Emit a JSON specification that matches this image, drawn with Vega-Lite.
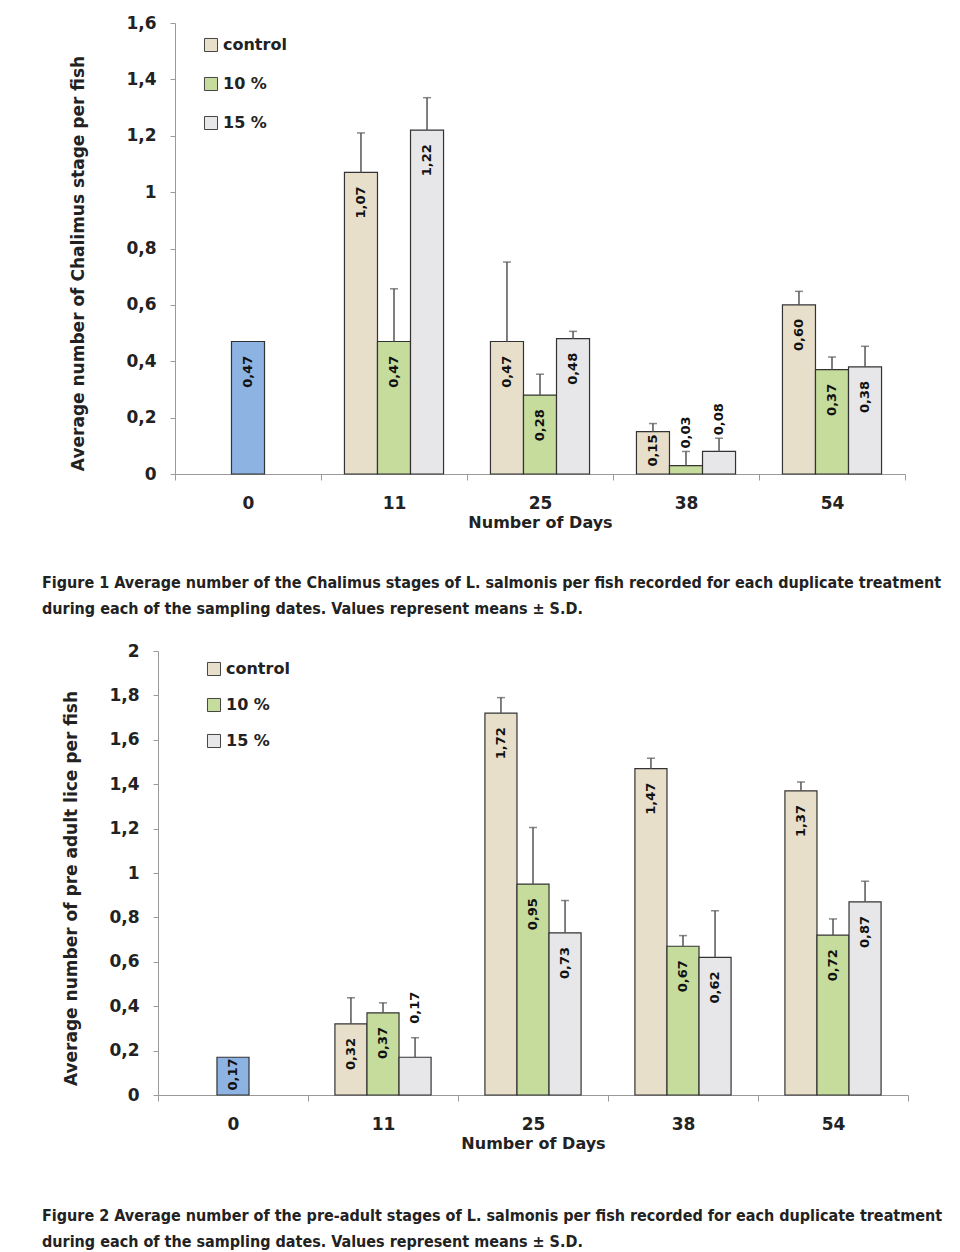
{
  "$schema": "https://vega.github.io/schema/vega-lite/v6.json",
  "padding": {"left": 42, "top": 14, "right": 5, "bottom": 5},
  "background": "white",
  "spacing": 25,
  "config": {
    "view": {"stroke": null},
    "font": "DejaVu Sans",
    "axis": {
      "grid": false,
      "domainColor": "#9a9a9a",
      "tickColor": "#9a9a9a",
      "labelColor": "#222",
      "titleColor": "#222",
      "labelFont": "DejaVu Sans",
      "titleFont": "DejaVu Sans",
      "labelFontWeight": "bold",
      "titleFontWeight": "bold"
    },
    "legend": {
      "labelFont": "DejaVu Sans",
      "labelFontSize": 16,
      "labelFontWeight": "bold",
      "labelColor": "#222",
      "symbolType": "square",
      "symbolSize": 170,
      "symbolStrokeColor": "#444",
      "symbolStrokeWidth": 1,
      "labelOffset": 4
    },
    "title": {
      "font": "DejaVu Sans Condensed",
      "fontSize": 16,
      "fontWeight": "bold",
      "color": "#222",
      "lineHeight": 26
    }
  },
  "resolve": {
    "scale": {"fill": "independent", "x": "independent", "y": "independent", "xOffset": "independent"},
    "legend": {"fill": "independent"}
  },
  "vconcat": [
    {
      "width": 730,
      "height": 451,
      "title": {
        "text": [
          "Figure 1 Average number of the Chalimus stages of L. salmonis per fish recorded for each duplicate treatment",
          "during each of the sampling dates. Values represent means ± S.D."
        ],
        "orient": "bottom",
        "anchor": "start",
        "frame": "group",
        "dx": -133,
        "offset": 45
      },
      "data": {
        "values": [
          {"day": "0", "group": "day0", "slot": "b", "value": 0.47, "upper": null},
          {"day": "11", "group": "control", "slot": "a", "value": 1.07, "upper": 1.21},
          {"day": "11", "group": "10 %", "slot": "b", "value": 0.47, "upper": 0.657},
          {"day": "11", "group": "15 %", "slot": "c", "value": 1.22, "upper": 1.335},
          {"day": "25", "group": "control", "slot": "a", "value": 0.47, "upper": 0.752},
          {"day": "25", "group": "10 %", "slot": "b", "value": 0.28, "upper": 0.354},
          {"day": "25", "group": "15 %", "slot": "c", "value": 0.48, "upper": 0.506},
          {"day": "38", "group": "control", "slot": "a", "value": 0.15, "upper": 0.179},
          {"day": "38", "group": "10 %", "slot": "b", "value": 0.03, "upper": 0.08},
          {"day": "38", "group": "15 %", "slot": "c", "value": 0.08, "upper": 0.127},
          {"day": "54", "group": "control", "slot": "a", "value": 0.60, "upper": 0.648},
          {"day": "54", "group": "10 %", "slot": "b", "value": 0.37, "upper": 0.415},
          {"day": "54", "group": "15 %", "slot": "c", "value": 0.38, "upper": 0.453}
        ]
      },
      "transform": [
        {"calculate": "replace(format(datum.value, '.2f'), '.', ',')", "as": "label"},
        {"calculate": "max(datum.value - 0.05, 0.14)", "as": "labelAt"}
      ],
      "encoding": {
        "x": {
          "field": "day",
          "type": "nominal",
          "sort": ["0", "11", "25", "38", "54"],
          "scale": {"paddingInner": 0, "paddingOuter": 0},
          "axis": {
            "title": "Number of Days",
            "labelAngle": 0,
            "tickBand": "extent",
            "tickSize": 6,
            "labelFontSize": 17,
            "labelPadding": 15,
            "titleFontSize": 16,
            "titlePadding": 3
          }
        },
        "xOffset": {
          "field": "slot",
          "type": "nominal",
          "scale": {"domain": ["a", "b", "c"], "paddingInner": 0, "paddingOuter": 0.71}
        }
      },
      "layer": [
        {
          "mark": {"type": "bar", "stroke": "#333", "strokeWidth": 1.2},
          "encoding": {
            "y": {
              "field": "value",
              "type": "quantitative",
              "scale": {"domain": [0, 1.6]},
              "axis": {
                "title": "Average number of Chalimus stage per fish",
                "values": [0, 0.2, 0.4, 0.6, 0.8, 1, 1.2, 1.4, 1.6],
                "labelExpr": "replace(format(datum.value, '~g'), '.', ',')",
                "tickSize": 5,
                "labelPadding": 14,
                "labelFontSize": 17,
                "titleFontSize": 17,
                "titlePadding": 38,
                "titleY": 240
              }
            },
            "fill": {
              "field": "group",
              "type": "nominal",
              "scale": {
                "domain": ["control", "10 %", "15 %", "day0"],
                "range": ["#e8dfcb", "#c5dc9c", "#e7e7e9", "#8db3e2"]
              },
              "legend": {
                "values": ["control", "10 %", "15 %"],
                "title": null,
                "orient": "none",
                "legendX": 28,
                "legendY": 14,
                "rowPadding": 21
              }
            }
          }
        },
        {
          "transform": [{"filter": "isValid(datum.upper)"}],
          "mark": {"type": "rule", "color": "#555", "strokeWidth": 1.5},
          "encoding": {
            "y": {"field": "value", "type": "quantitative"},
            "y2": {"field": "upper"}
          }
        },
        {
          "transform": [{"filter": "isValid(datum.upper)"}],
          "mark": {"type": "tick", "color": "#555", "size": 8, "thickness": 1.5},
          "encoding": {
            "y": {"field": "upper", "type": "quantitative"}
          }
        },
        {
          "transform": [{"filter": "datum.value >= 0.1"}],
          "mark": {"type": "text", "angle": 270, "align": "right", "baseline": "middle", "font": "DejaVu Sans", "fontSize": 13, "fontWeight": "bold", "color": "#111"},
          "encoding": {
            "y": {"field": "labelAt", "type": "quantitative"},
            "text": {"field": "label"}
          }
        },
        {
          "transform": [{"filter": "datum.value < 0.1"}],
          "mark": {"type": "text", "angle": 270, "align": "left", "baseline": "middle", "dx": 3, "font": "DejaVu Sans", "fontSize": 13, "fontWeight": "bold", "color": "#111"},
          "encoding": {
            "y": {"field": "upper", "type": "quantitative"},
            "text": {"field": "label"}
          }
        }
      ]
    },
    {
      "width": 733,
      "height": 444,
      "title": {
        "text": [
          "Figure 2 Average number of the pre-adult stages of L. salmonis per fish recorded for each duplicate treatment",
          "during each of the sampling dates. Values represent means ± S.D."
        ],
        "orient": "bottom",
        "anchor": "start",
        "frame": "group",
        "dx": -133,
        "offset": 57
      },
      "data": {
        "values": [
          {"day": "0", "treatment": "day0", "slot": "b", "value": 0.17, "upper": null},
          {"day": "11", "treatment": "control", "slot": "a", "value": 0.32, "upper": 0.438},
          {"day": "11", "treatment": "10 %", "slot": "b", "value": 0.37, "upper": 0.415},
          {"day": "11", "treatment": "15 %", "slot": "c", "value": 0.17, "upper": 0.258},
          {"day": "25", "treatment": "control", "slot": "a", "value": 1.72, "upper": 1.79},
          {"day": "25", "treatment": "10 %", "slot": "b", "value": 0.95, "upper": 1.205},
          {"day": "25", "treatment": "15 %", "slot": "c", "value": 0.73, "upper": 0.876},
          {"day": "38", "treatment": "control", "slot": "a", "value": 1.47, "upper": 1.517},
          {"day": "38", "treatment": "10 %", "slot": "b", "value": 0.67, "upper": 0.718},
          {"day": "38", "treatment": "15 %", "slot": "c", "value": 0.62, "upper": 0.83},
          {"day": "54", "treatment": "control", "slot": "a", "value": 1.37, "upper": 1.41},
          {"day": "54", "treatment": "10 %", "slot": "b", "value": 0.72, "upper": 0.793},
          {"day": "54", "treatment": "15 %", "slot": "c", "value": 0.87, "upper": 0.963}
        ]
      },
      "transform": [
        {"calculate": "replace(format(datum.value, '.2f'), '.', ',')", "as": "label"},
        {"calculate": "max(datum.value - 0.063, 0.165)", "as": "labelAt"},
        {"calculate": "datum.day == '11' && datum.treatment == '15 %'", "as": "outside"}
      ],
      "encoding": {
        "x": {
          "field": "day",
          "type": "nominal",
          "sort": ["0", "11", "25", "38", "54"],
          "scale": {"paddingInner": 0, "paddingOuter": 0, "range": [-17, 733]},
          "axis": {
            "title": "Number of Days",
            "labelAngle": 0,
            "tickBand": "extent",
            "tickSize": 6,
            "labelFontSize": 17,
            "labelPadding": 15,
            "titleFontSize": 16,
            "titlePadding": 3
          }
        },
        "xOffset": {
          "field": "slot",
          "type": "nominal",
          "scale": {"domain": ["a", "b", "c"], "paddingInner": 0, "paddingOuter": 0.84}
        }
      },
      "layer": [
        {
          "mark": {"type": "bar", "stroke": "#333", "strokeWidth": 1.2},
          "encoding": {
            "y": {
              "field": "value",
              "type": "quantitative",
              "scale": {"domain": [0, 2]},
              "axis": {
                "title": "Average number of pre adult lice per fish",
                "offset": 17,
                "values": [0, 0.2, 0.4, 0.6, 0.8, 1, 1.2, 1.4, 1.6, 1.8, 2],
                "labelExpr": "replace(format(datum.value, '~g'), '.', ',')",
                "tickSize": 5,
                "labelPadding": 14,
                "labelFontSize": 17,
                "titleFontSize": 17,
                "titlePadding": 28,
                "titleY": 237
              }
            },
            "fill": {
              "field": "treatment",
              "type": "nominal",
              "scale": {
                "domain": ["control", "10 %", "15 %", "day0"],
                "range": ["#e8dfcb", "#c5dc9c", "#e7e7e9", "#8db3e2"]
              },
              "legend": {
                "values": ["control", "10 %", "15 %"],
                "title": null,
                "orient": "none",
                "legendX": 31,
                "legendY": 10,
                "rowPadding": 18
              }
            }
          }
        },
        {
          "transform": [{"filter": "isValid(datum.upper)"}],
          "mark": {"type": "rule", "color": "#555", "strokeWidth": 1.5},
          "encoding": {
            "y": {"field": "value", "type": "quantitative"},
            "y2": {"field": "upper"}
          }
        },
        {
          "transform": [{"filter": "isValid(datum.upper)"}],
          "mark": {"type": "tick", "color": "#555", "size": 8, "thickness": 1.5},
          "encoding": {
            "y": {"field": "upper", "type": "quantitative"}
          }
        },
        {
          "transform": [{"filter": "!datum.outside"}],
          "mark": {"type": "text", "angle": 270, "align": "right", "baseline": "middle", "font": "DejaVu Sans", "fontSize": 13, "fontWeight": "bold", "color": "#111"},
          "encoding": {
            "y": {"field": "labelAt", "type": "quantitative"},
            "text": {"field": "label"}
          }
        },
        {
          "transform": [{"filter": "datum.outside"}],
          "mark": {"type": "text", "angle": 270, "align": "left", "baseline": "middle", "dx": 14, "font": "DejaVu Sans", "fontSize": 13, "fontWeight": "bold", "color": "#111"},
          "encoding": {
            "y": {"field": "upper", "type": "quantitative"},
            "text": {"field": "label"}
          }
        }
      ]
    }
  ]
}
